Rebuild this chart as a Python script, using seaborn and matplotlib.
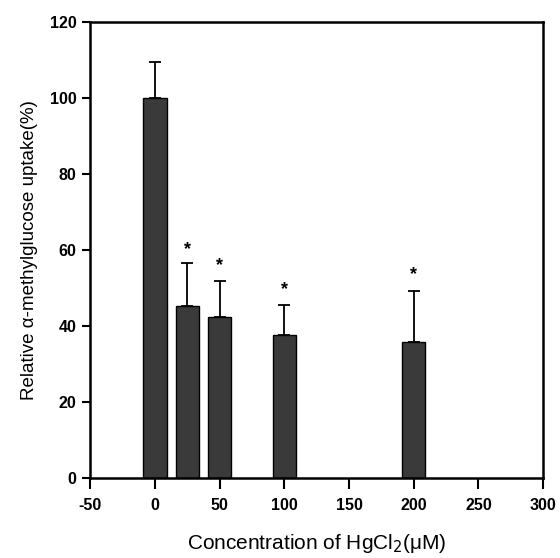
import matplotlib
matplotlib.use("Agg")
import matplotlib.pyplot as plt
import seaborn as sns
import pandas as pd
import numpy as np

conc = [0, 25, 50, 100, 200]
uptake = [100, 45.3, 42.4, 37.6, 35.8]
err_up = [9.5, 11.3, 9.4, 7.9, 13.4]
star_y = [None, 60, 56, 49.5, 53.5]
x_ticks = [-50, 0, 50, 100, 150, 200, 250, 300]
y_ticks = [0, 20, 40, 60, 80, 100, 120]

df = pd.DataFrame({"conc": conc, "uptake": uptake})

sns.set_style("ticks")
plt.rcParams["font.family"] = ["Liberation Sans", "DejaVu Sans"]
plt.rcParams["text.color"] = "black"
plt.rcParams["axes.labelcolor"] = "black"
plt.rcParams["xtick.color"] = "black"
plt.rcParams["ytick.color"] = "black"

fig = plt.figure(figsize=(5.6, 5.58), dpi=100)
ax = fig.add_axes([0.161, 0.143, 0.809, 0.818])

sns.barplot(data=df, x="conc", y="uptake", native_scale=True, width=0.72,
            color="#3a3a3a", edgecolor="black", linewidth=1.0,
            errorbar=None, ax=ax, saturation=1)

ax.errorbar(conc, uptake, yerr=[np.zeros(len(err_up)), err_up], fmt="none",
            ecolor="black", elinewidth=1.3, capsize=4, capthick=1.3)

for xv, sy in zip(conc, star_y):
    if sy is not None:
        ax.text(xv, sy, "*", ha="center", va="center", fontsize=13, fontweight="bold")

ax.set_xlim(-50, 300)
ax.set_ylim(0, 120)
ax.set_xticks(x_ticks)
ax.set_yticks(y_ticks)
ax.set_xticklabels([str(v) for v in x_ticks], fontweight="bold", fontsize=11.5)
ax.set_yticklabels([str(v) for v in y_ticks], fontweight="bold", fontsize=11.5)
ax.tick_params(axis="x", length=8, width=1.5, direction="out", pad=6, colors="black")
ax.tick_params(axis="y", length=6, width=1.5, direction="out", pad=4, colors="black")
for s in ax.spines.values():
    s.set_visible(True)
    s.set_linewidth(1.8)
    s.set_color("black")

ax.set_xlabel("Concentration of HgCl$_2$(μM)", fontsize=15, labelpad=14, color="black")
ax.set_ylabel("Relative α-methylglucose uptake(%)", fontsize=13.5, labelpad=8, color="black")

fig.savefig("out.png", dpi=100)
